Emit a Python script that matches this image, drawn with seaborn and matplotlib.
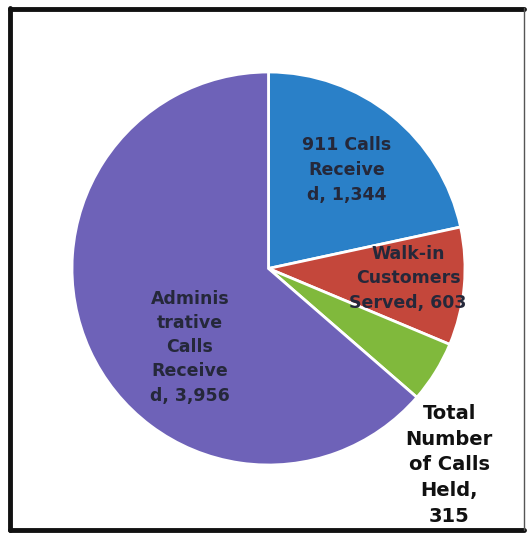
import matplotlib
matplotlib.use('Agg')
import matplotlib.pyplot as plt
from matplotlib.lines import Line2D
import seaborn as sns

sns.set_theme(style='white')
plt.rcParams['font.family'] = ['DejaVu Sans']

# data
labels = ['911 Calls\nReceive\nd, 1,344', 'Walk-in\nCustomers\nServed, 603',
          'Total\nNumber\nof Calls\nHeld,\n315', 'Adminis\ntrative\nCalls\nReceive\nd, 3,956']
values = [1344, 603, 315, 3956]
colors = ['#2A80C8', '#C4473B', '#80B93C', '#6E62B8']

fig = plt.figure(figsize=(5.28, 5.35), dpi=100)
ax = fig.add_axes([72 / 528, 70 / 535, 393 / 528, 393 / 535])

wedges, _ = ax.pie(values, colors=colors, startangle=90, counterclock=False,
                   wedgeprops=dict(edgecolor='white', linewidth=2))
ax.set_xlim(-1, 1); ax.set_ylim(-1, 1)
ax.set_aspect('equal')

# label positions in pie units (radius = 1)
label_pos = [(0.40, 0.50), (0.71, -0.05), (0.92, -1.00), (-0.40, -0.40)]
label_col = ['#25283a', '#25283a', '#111111', '#25283a']
label_size = [12.5, 12.5, 14, 12.5]
label_ls = [1.5, 1.45, 1.45, 1.45]
for txt, (x, y), c, s, ls in zip(labels, label_pos, label_col, label_size, label_ls):
    ax.text(x, y, txt, ha='center', va='center', fontsize=s, fontweight='bold',
            color=c, linespacing=ls, clip_on=False)

# frame around the chart
fig.add_artist(Line2D([10 / 528, 10 / 528], [5 / 535, 527 / 535], color='#111111', lw=3.5))
fig.add_artist(Line2D([10 / 528, 524 / 528], [526 / 535, 526 / 535], color='#111111', lw=3.5))
fig.add_artist(Line2D([10 / 528, 524 / 528], [5 / 535, 5 / 535], color='#111111', lw=3.5))
fig.add_artist(Line2D([524 / 528, 524 / 528], [5 / 535, 527 / 535], color='#555555', lw=1))

fig.savefig('out.png', dpi=100)
